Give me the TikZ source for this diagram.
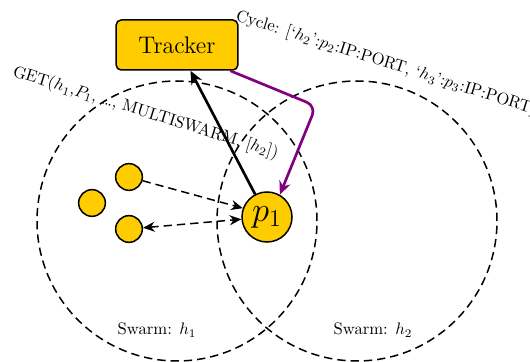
\documentclass[tikz,border=0pt]{standalone}
\usetikzlibrary{arrows.meta}
\definecolor{peerfill}{HTML}{FFCC00}
\definecolor{peerline}{HTML}{000000}
\definecolor{cycline}{HTML}{800080}
\tikzset{
  trackerblk/.style = {rectangle, rounded corners=3pt, draw=peerline, fill=peerfill,
                       line width=0.9pt, font=\Large, minimum width=73pt, minimum height=30pt},
  peer/.style       = {circle, draw=peerline, fill=peerfill, line width=0.9pt,
                       minimum size=16pt, inner sep=0pt},
  mainpeer/.style   = {peer, minimum size=30pt, font=\huge},
  swarm/.style      = {draw=black, line width=0.9pt, dash pattern=on 5pt off 3pt},
  msg/.style        = {-{Stealth[length=7pt, width=6pt]}, line width=0.9pt,
                       dash pattern=on 5pt off 3pt},
  req/.style        = {-{Stealth[length=8pt, width=7pt]}, line width=1.6pt, draw=black},
  reply/.style      = {-{Stealth[length=8pt, width=7pt]}, line width=1.6pt, draw=cycline,
                       rounded corners=6pt},
  lbl/.style        = {font=\normalsize, inner sep=0pt},
}
\begin{document}
\begin{tikzpicture}[x=0.6pt, y=-0.6pt]
	\useasboundingbox (0,0) rectangle (530,362);

	% swarms
	\coordinate (h1) at (177,221);
	\coordinate (h2) at (357,221);
	\draw[swarm] (h1) circle[radius=84pt];
	\draw[swarm] (h2) circle[radius=84pt];
	\node[lbl] (h1lbl) at (157,330) {Swarm: $h_1$};
	\node[lbl] (h2lbl) at (373,330) {Swarm: $h_2$};

	% tracker and peers
	\node[trackerblk] (tracker) at (177,45) {Tracker};
	\node[mainpeer] (p1) at (267,217) {$p_1$};
	\node[peer] (s1) at (129,177) {};
	\node[peer] (s2) at (92,203) {};
	\node[peer] (s3) at (129,229) {};

	\draw[msg] (s1) -- (p1.160);
	\draw[msg, <->, >={Stealth[length=7pt, width=6pt]}] (s3) -- (p1.185);

	% tracker messages
	\coordinate (bend) at (316,106);
	\draw[req] (p1) -- (tracker);
	\draw[reply] ([xshift=-5pt]tracker.south east) -- (bend) -- (p1.60);

	\node[lbl, anchor=west, rotate=-17.2] (get) at (13,72)
		{GET($h_1$,$P_1$, \ldots, MULTISWARM, [$h_2$])};
	\node[lbl, anchor=west, rotate=-17.5] (cyc) at (236,16)
		{Cycle: [`$h_2$':$p_2$:IP:PORT, `$h_3$':$p_3$:IP:PORT]};
\end{tikzpicture}
\end{document}
